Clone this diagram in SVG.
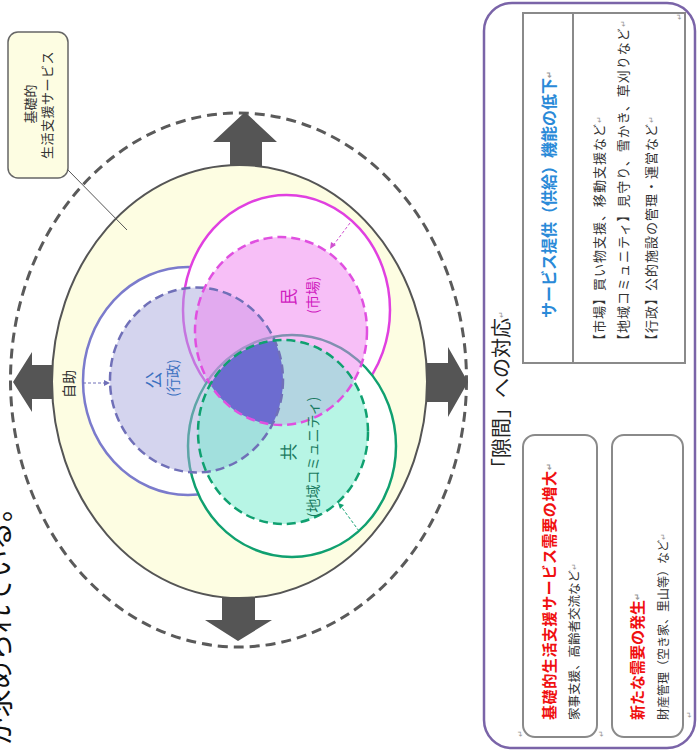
<svg xmlns="http://www.w3.org/2000/svg" width="699" height="754" viewBox="0 0 699 754">
<style>
text{font-family:"Noto Sans CJK JP","Noto Sans",sans-serif;dominant-baseline:central}
.ring{fill:none;stroke:#5a5a5a;stroke-width:3;stroke-dasharray:10 6}
.arrow{fill:#555}
.ret{font-size:8px;fill:#999}
.item{font-size:13px;fill:#333;letter-spacing:1px}
.box{fill:#fff;stroke:#8a8a8a;stroke-width:2}
.dbl{fill:none;stroke:#8a8a8a;stroke-width:2.5}
</style>
<defs>
<clipPath id="cB"><ellipse cx="196.5" cy="380" rx="86.5" ry="92.5"/></clipPath>
<clipPath id="cM"><ellipse cx="281" cy="331" rx="86" ry="94"/></clipPath>
</defs>

<!-- page text cut at left edge -->
<text transform="translate(-2,494) rotate(-90)" text-anchor="end" style="font-size:28px;fill:#111">が求められている。</text>

<g id="outer">
<ellipse class="ring" cx="238.5" cy="380" rx="228" ry="267"/>
<polygon class="arrow" points="245,112 277,142 262,142 262,170 230,170 230,142 213,142"/>
<polygon class="arrow" points="13,382 32,352 32,365 56,365 56,399 32,399 32,412"/>
<polygon class="arrow" points="468,382 448,347 448,363 424,363 424,402 448,402 448,417"/>
<polygon class="arrow" points="238,641 272,620 255,620 255,594 222,594 222,620 205,620"/>
<ellipse cx="239.5" cy="381.5" rx="187.5" ry="216.5" fill="#fdfde2" stroke="#555" stroke-width="2"/>
</g>

<g id="label-kiso">
<line x1="68" y1="170" x2="127" y2="230" stroke="#555" stroke-width="1"/>
<rect x="8" y="32" width="60" height="146" rx="10" fill="#fdfde2" stroke="#666" stroke-width="1.5"/>
<text transform="translate(29,104) rotate(-90)" text-anchor="middle" style="font-size:13px;fill:#333">基礎的</text>
<text transform="translate(46,105) rotate(-90)" text-anchor="middle" style="font-size:13px;fill:#333;letter-spacing:0.5px">生活支援サービス</text>
</g>

<g id="circles">
<ellipse cx="188" cy="381" rx="105" ry="114" fill="#fff" stroke="#7b7bcc" stroke-width="2.5"/>
<ellipse cx="286.5" cy="310" rx="103.5" ry="115" fill="#fff" stroke="#e040e0" stroke-width="2.5"/>
<ellipse cx="292" cy="446" rx="104" ry="111" fill="#fff" stroke="#10a070" stroke-width="2.5"/>
<ellipse cx="196.5" cy="380" rx="86.5" ry="92.5" fill="#aaaadd" fill-opacity="0.5"/>
<ellipse cx="281" cy="331" rx="86" ry="94" fill="#f080f0" fill-opacity="0.5"/>
<ellipse cx="283" cy="432" rx="85" ry="92" fill="#70eccc" fill-opacity="0.5"/>
<g clip-path="url(#cB)"><g clip-path="url(#cM)"><ellipse cx="283" cy="432" rx="85" ry="92" fill="#6c6cd0"/></g></g>
<ellipse cx="196.5" cy="380" rx="86.5" ry="92.5" fill="none" stroke="#7070b8" stroke-width="2.5" stroke-dasharray="9 5"/>
<ellipse cx="281" cy="331" rx="86" ry="94" fill="none" stroke="#e050e0" stroke-width="2.5" stroke-dasharray="9 5"/>
<ellipse cx="283" cy="432" rx="85" ry="92" fill="none" stroke="#10a070" stroke-width="2.5" stroke-dasharray="9 5"/>
</g>

<g id="connectors">
<g fill="none" stroke-width="1" stroke-dasharray="3 2">
<line x1="83" y1="383" x2="108" y2="383" stroke="#7070b8"/>
<line x1="350" y1="223" x2="332" y2="247" stroke="#d050d0"/>
<line x1="359" y1="531" x2="340" y2="505" stroke="#10a070"/>
</g>
<polygon points="110,383 104,380 104,386" fill="#7070b8"/>
<polygon points="330,249 331,242 336,245" fill="#d050d0"/>
<polygon points="338,503 344,505 340,509" fill="#10a070"/>
<path class="dbl" d="M562,374 V426 M556,381 L562,374 L568,381 M556,419 L562,426 L568,419"/>
<path class="dbl" d="M645,374 V426 M639,381 L645,374 L651,381 M639,419 L645,426 L651,419"/>
</g>

<g id="circle-labels">
<text transform="translate(68,384) rotate(-90)" text-anchor="middle" style="font-size:14px;fill:#333">自助</text>
<text transform="translate(152,380) rotate(-90)" text-anchor="middle" style="font-size:17px;fill:#3a70c0">公</text>
<text transform="translate(172,378) rotate(-90)" text-anchor="middle" style="font-size:14px;fill:#3a70c0">(行政)</text>
<text transform="translate(287,297) rotate(-90)" text-anchor="middle" style="font-size:17px;fill:#d020c0">民</text>
<text transform="translate(312,295) rotate(-90)" text-anchor="middle" style="font-size:14px;fill:#d020c0">(市場)</text>
<text transform="translate(287,452) rotate(-90)" text-anchor="middle" style="font-size:17px;fill:#1a7a60">共</text>
<text transform="translate(312,457) rotate(-90)" text-anchor="middle" style="font-size:14px;fill:#1a7a60">(地域コミュニティ)</text>
</g>

<g id="panel">
<rect x="484" y="3" width="211" height="745" rx="28" fill="#fff" stroke="#7a64a8" stroke-width="2.5"/>
<text transform="translate(500,478) rotate(-90)" style="font-size:20px;fill:#222">「隙間」への対応<tspan class="ret">↵</tspan></text>
</g>

<g id="supply-box">
<rect class="box" x="523" y="13" width="162" height="350"/>
<line x1="573" y1="13" x2="573" y2="363" stroke="#8a8a8a" stroke-width="2"/>
<text transform="translate(548,318) rotate(-90)" style="font-size:16px;font-weight:bold;fill:#2a8ad8">サービス提供（供給）機能の低下<tspan class="ret">↵</tspan></text>
<text class="item" transform="translate(598,347) rotate(-90)">【市場】買い物支援、移動支援など<tspan class="ret">↵</tspan></text>
<text class="item" transform="translate(622,347) rotate(-90)">【地域コミュニティ】見守り、雪かき、草刈りなど<tspan class="ret">↵</tspan></text>
<text class="item" transform="translate(650,347) rotate(-90)">【行政】公的施設の管理・運営など<tspan class="ret">↵</tspan></text>
<text class="ret" transform="translate(678,20) rotate(-90)">↵</text>
</g>

<g id="demand-box">
<rect class="box" x="523" y="435" width="74" height="302" rx="12"/>
<text transform="translate(548,720) rotate(-90)" style="font-size:15px;font-weight:bold;fill:#f01010;letter-spacing:0.6px">基礎的生活支援サービス需要の増大<tspan class="ret">↵</tspan></text>
<text transform="translate(573,720) rotate(-90)" style="font-size:12.5px;fill:#333">家事支援、高齢者交流など<tspan class="ret">↵</tspan></text>
</g>

<g id="new-demand-box">
<rect class="box" x="612" y="435" width="71" height="302" rx="12"/>
<text transform="translate(636,720) rotate(-90)" style="font-size:15px;font-weight:bold;fill:#f01010">新たな需要の発生<tspan class="ret">↵</tspan></text>
<text transform="translate(662,720) rotate(-90)" style="font-size:12px;fill:#333">財産管理（空き家、里山等）など<tspan class="ret">↵</tspan></text>
</g>

<g id="marks">
<text class="ret" transform="translate(519,737) rotate(-90)">↵</text>
<text class="ret" transform="translate(600,737) rotate(-90)">↵</text>
<text class="ret" transform="translate(688,718) rotate(-90)">↵</text>
</g>
</svg>
